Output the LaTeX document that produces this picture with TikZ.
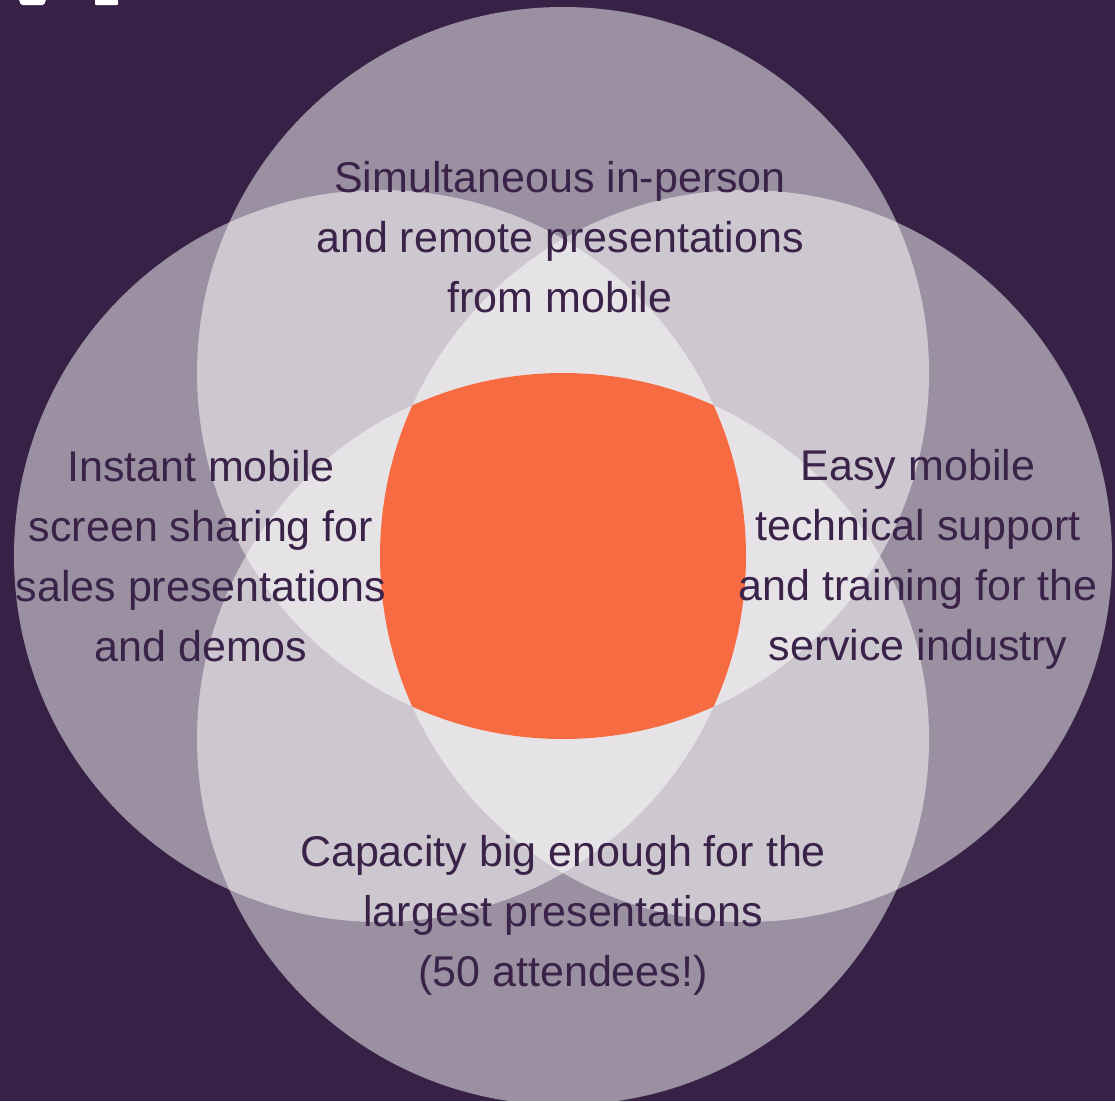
\documentclass[tikz,border=0pt]{standalone}
\usepackage{fontspec}
\setmainfont{Liberation Sans}
\definecolor{bgpurple}{HTML}{382146}
\definecolor{txtpurple}{HTML}{3A2248}
\definecolor{coreorange}{HTML}{F76B43}
\begin{document}
\begin{tikzpicture}[x=1pt,y=-1pt,
  venn/.style={fill=white,fill opacity=0.5},
  lbl/.style={align=center,text=txtpurple,inner sep=0pt,font=\fontsize{43}{60}\selectfont}]
\useasboundingbox (0,0) rectangle (1115,1101);
\fill[bgpurple] (0,0) rectangle (1115,1101);
% cut-off glyph bits at the top edge
\fill[white,rounded corners=1.5pt] (18,-3) -- (47,-3) -- (44,5) -- (21,5) -- cycle;
\fill[white,rounded corners=1pt] (95,-3) rectangle (118,5);
% circles
\coordinate (ct) at (563,373);
\coordinate (cb) at (563,739);
\coordinate (cl) at (380,556);
\coordinate (cr) at (746,556);
\fill[venn] (ct) circle[radius=366];
\fill[venn] (cb) circle[radius=366];
\fill[venn] (cl) circle[radius=366];
\fill[venn] (cr) circle[radius=366];
\begin{scope}
  \clip (ct) circle[radius=366];
  \clip (cb) circle[radius=366];
  \clip (cl) circle[radius=366];
  \fill[coreorange] (cr) circle[radius=366];
\end{scope}
% labels
\node[lbl] (ttop) at (560,237.5) {Simultaneous in-person\\and remote presentations\\from mobile};
\node[lbl] (tleft) at (201,556.5) {Instant mobile\\screen sharing for\\sales presentations\\and demos};
\node[lbl] (tright) at (918,559) {Easy mobile\\technical support\\and training for the\\service industry};
\node[lbl] (tbottom) at (563,915) {Capacity big enough for the\\largest presentations\\(50 attendees!)};
\end{tikzpicture}
\end{document}
